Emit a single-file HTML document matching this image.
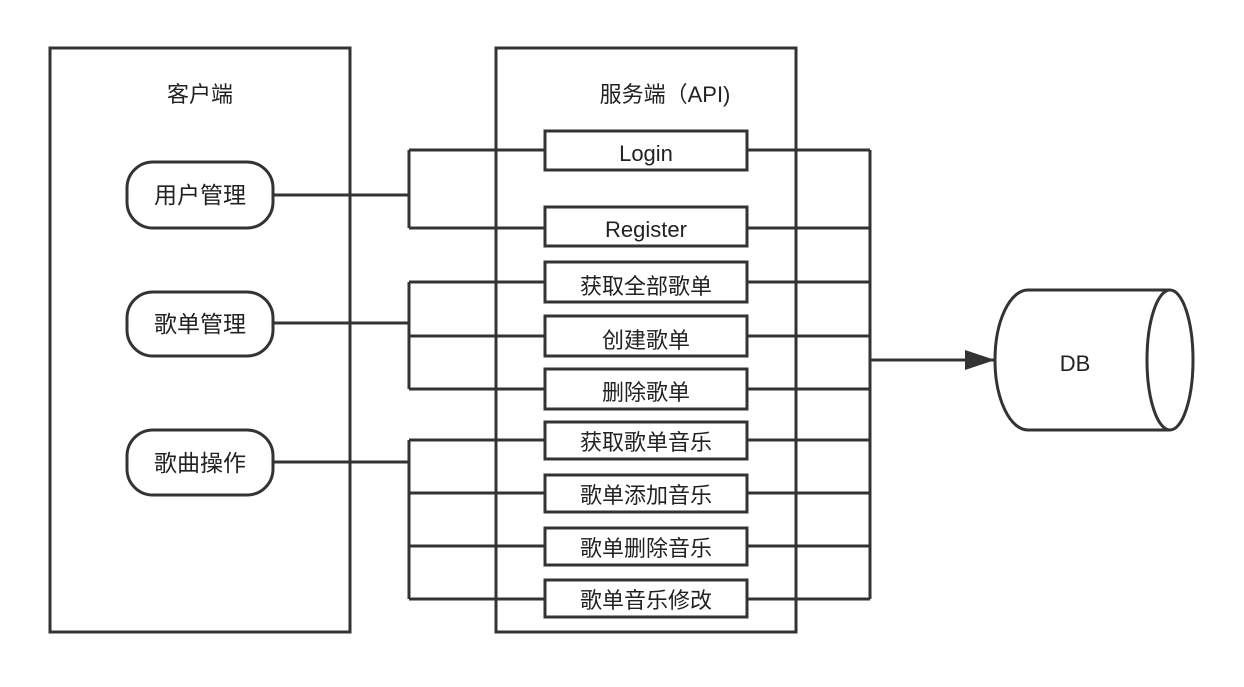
<!DOCTYPE html>
<html><head><meta charset="utf-8"><style>body{margin:0;background:#fff}</style></head><body>
<svg width="1244" height="682" xmlns="http://www.w3.org/2000/svg" font-family="Liberation Sans, Noto Sans CJK SC, sans-serif" fill="none" stroke="#333" stroke-width="3">
<defs><marker id="a" markerWidth="10" markerHeight="8" refX="9" refY="4" orient="auto" markerUnits="userSpaceOnUse"><path d="M0,0 L10,4 L0,8z" fill="#333" stroke="none" transform="scale(1)"/></marker>
<marker id="b" viewBox="0 0 30 20" markerWidth="30" markerHeight="20" refX="30" refY="10" orient="auto" markerUnits="userSpaceOnUse"><path d="M0,0 L30,10 L0,20z" fill="#333" stroke="none"/></marker></defs>
<rect x="50" y="48" width="300" height="584"/>
<rect x="496" y="48" width="300" height="584"/>
<g fill="#222" stroke="none" font-size="22" text-anchor="middle">
<text x="200" y="102">客户端</text>
<text x="665" y="102">服务端（API)</text>
</g>
<g>
<rect x="127" y="162" width="146" height="66" rx="26"/>
<rect x="127" y="292" width="146" height="64" rx="26"/>
<rect x="127" y="430" width="146" height="65" rx="26"/>
</g>
<g fill="#222" stroke="none" font-size="23" text-anchor="middle">
<text x="200" y="203">用户管理</text>
<text x="200" y="332">歌单管理</text>
<text x="200" y="471">歌曲操作</text>
</g>
<path d="M273,195H409 M409,150V228 M273,323H409 M409,282V389 M273,462H409 M409,440V599 M747,150H870 M747,228H870 M747,282H870 M747,336H870 M747,389H870 M747,440H870 M747,493H870 M747,546H870 M747,599H870 M870,150V599"/>
<g marker-end="url(#b)">
<path d="M409,150H545 M409,228H545 M409,282H545 M409,336H545 M409,389H545 M409,440H545 M409,493H545 M409,546H545 M409,599H545 M870,360H995"/>
</g>
<g>
<rect x="545" y="131" width="202" height="39"/>
<rect x="545" y="207" width="202" height="39"/>
<rect x="545" y="262" width="202" height="40"/>
<rect x="545" y="316" width="202" height="40"/>
<rect x="545" y="369" width="202" height="40"/>
<rect x="545" y="422" width="202" height="37"/>
<rect x="545" y="475" width="202" height="37"/>
<rect x="545" y="528" width="202" height="37"/>
<rect x="545" y="580" width="202" height="37"/>
</g>
<g fill="#222" stroke="none" font-size="22" text-anchor="middle">
<text x="646" y="161">Login</text>
<text x="646" y="237">Register</text>
<text x="646" y="294">获取全部歌单</text>
<text x="646" y="348">创建歌单</text>
<text x="646" y="400">删除歌单</text>
<text x="646" y="450">获取歌单音乐</text>
<text x="646" y="503">歌单添加音乐</text>
<text x="646" y="556">歌单删除音乐</text>
<text x="646" y="608">歌单音乐修改</text>
<text x="1075" y="371">DB</text>
</g>
<path d="M1170,290 H1028 A33,70 0 0 0 1028,430 H1170"/>
<ellipse cx="1170" cy="360" rx="23" ry="70"/>
</svg>
</body></html>
